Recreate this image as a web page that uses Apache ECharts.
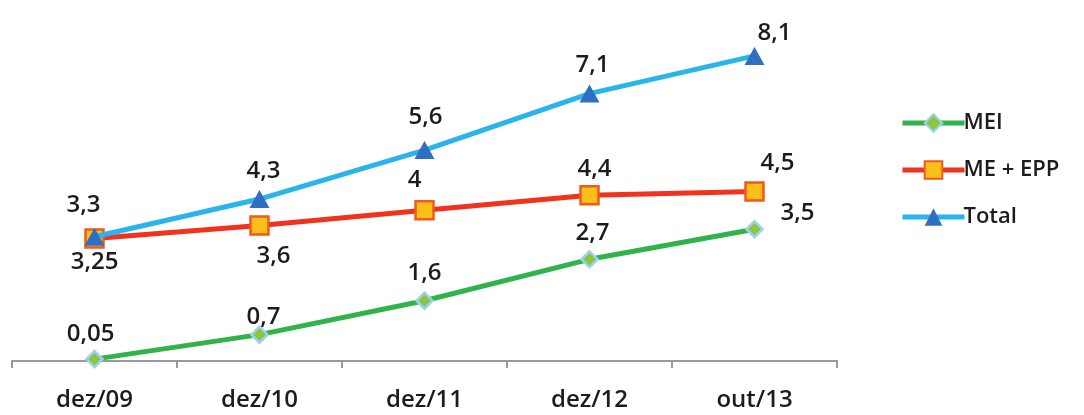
<!DOCTYPE html>
<html>
<head>
<meta charset="utf-8">
<style>
  html, body { margin: 0; padding: 0; background: #ffffff; }
  #chart { width: 1084px; height: 415px; }
</style>
<script src="https://cdn.jsdelivr.net/npm/echarts@6/dist/echarts.min.js"></script>
</head>
<body>
<div id="chart"></div>
<script>
// Periods on the horizontal axis
const categories = ['dez/09', 'dez/10', 'dez/11', 'dez/12', 'out/13'];

// Values (millions) per series
const meiValues = [0.05, 0.7, 1.6, 2.7, 3.5];
const meEppValues = [3.25, 3.6, 4, 4.4, 4.5];
const totalValues = [3.3, 4.3, 5.6, 7.1, 8.1];

// Where each value label sits relative to its point [dx, dy]
const meiLabelOffsets = [[-4, -25], [4, -17], [0, -28], [3, -26], [43, -16]];
const meEppLabelOffsets = [[0, 24], [14, 31], [-10, -30], [5, -26], [23, -28]];
const totalLabelOffsets = [[-11, -32], [4, -28], [1, -33], [3, -28], [20, -23]];

const FONT = '"Open Sans", "Liberation Sans", sans-serif';
const TEXT = '#1c1c1c';

function fmt(v) {
  return String(v).replace('.', ',');
}

function withLabels(values, offsets) {
  return values.map((v, i) => ({
    value: v,
    label: {
      show: true,
      position: 'inside',
      offset: offsets[i],
      formatter: () => fmt(v),
      fontFamily: FONT,
      fontSize: 24,
      fontWeight: 600,
      color: TEXT
    }
  }));
}

const chart = echarts.init(document.getElementById('chart'));

chart.setOption({
  animation: false,
  backgroundColor: '#ffffff',
  grid: { left: 12, right: 247, top: 22, bottom: 54, containLabel: false },
  legend: {
    orient: 'vertical',
    left: 895,
    top: 107,
    itemWidth: 62,
    itemHeight: 22,
    itemGap: 25,
    lineStyle: { width: 5 },
    textStyle: { fontFamily: FONT, fontSize: 22, fontWeight: 600, color: TEXT, padding: [0, 0, 0, -6] },
    data: ['MEI', 'ME + EPP', 'Total']
  },
  xAxis: {
    type: 'category',
    data: categories,
    boundaryGap: true,
    axisLine: { lineStyle: { color: '#9a9a9a', width: 2 } },
    axisTick: { show: true, alignWithLabel: false, length: 7, lineStyle: { color: '#9a9a9a', width: 2 } },
    axisLabel: { fontFamily: FONT, fontSize: 24, fontWeight: 600, color: TEXT, margin: 27 }
  },
  yAxis: {
    type: 'value',
    min: 0,
    max: 9,
    show: false,
    splitLine: { show: false }
  },
  series: [
    {
      name: 'MEI',
      type: 'line',
      data: withLabels(meiValues, meiLabelOffsets),
      symbol: 'diamond',
      symbolSize: 16,
      lineStyle: { color: '#2fb34a', width: 5 },
      itemStyle: { color: '#8cc63f', borderColor: '#9cd2f0', borderWidth: 2.5 },
      z: 3
    },
    {
      name: 'ME + EPP',
      type: 'line',
      data: withLabels(meEppValues, meEppLabelOffsets),
      symbol: 'rect',
      symbolSize: 18,
      lineStyle: { color: '#f0321e', width: 5 },
      itemStyle: { color: '#fbbf1a', borderColor: '#f05a1e', borderWidth: 2.5 },
      z: 4
    },
    {
      name: 'Total',
      type: 'line',
      data: withLabels(totalValues, totalLabelOffsets),
      symbol: 'triangle',
      symbolSize: [20, 18],
      lineStyle: { color: '#2ab4ec', width: 5 },
      itemStyle: { color: '#2f6fc2', borderWidth: 0 },
      z: 5
    }
  ]
});
</script>
</body>
</html>
